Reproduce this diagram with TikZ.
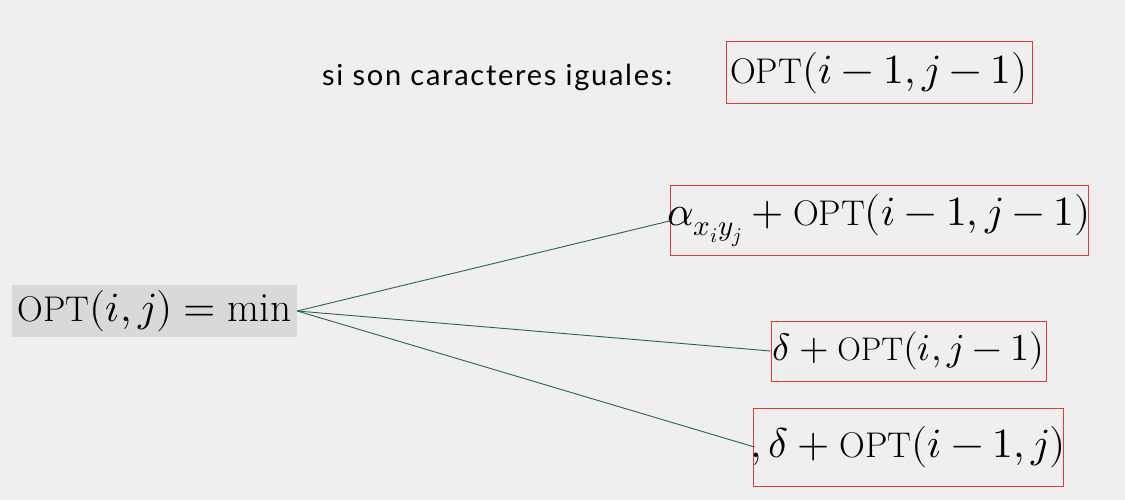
\documentclass[tikz,border=0pt]{standalone}
\usepackage{amsmath}
\usepackage{unicode-math}
\setmathfont{Latin Modern Math}
\usepackage{graphicx}
\newfontfamily\labelfont[LetterSpace=6]{Lato}
\newcommand{\OPT}{\mbox{\scalebox{0.86}{OPT}}}
\newcommand{\fixw}[1]{\makebox[0pt]{$#1$}}
\definecolor{bg}{HTML}{EFEFEF}
\definecolor{graybox}{HTML}{D9D9D9}
\definecolor{boxred}{HTML}{E53935}
\definecolor{linegreen}{HTML}{2F5F4F}
\begin{document}
\begin{tikzpicture}[x=1pt,y=-1pt,
  formula/.style={inner sep=0pt, font=\fontsize{41.5}{44}\selectfont},
  redbox/.style={formula, draw=boxred, line width=1pt},
  conn/.style={draw=linegreen, line width=0.9pt}]
\fill[bg] (0,0) rectangle (1125,500);
\useasboundingbox (0,0) rectangle (1125,500);
\node[formula, fill=graybox, minimum width=285pt, minimum height=52pt] (main) at (154.5,311) {\fixw{\OPT(i,j) = \min}};
\node[anchor=base west, inner sep=0pt, font=\labelfont\fontsize{29}{31}\selectfont] (lab) at (322,86) {si son caracteres iguales:};
\node[redbox, minimum width=306pt, minimum height=62pt] (b1) at (879,73) {\fixw{\OPT(i-1,j-1)}};
\node[redbox, minimum width=418pt, minimum height=69pt] (b2) at (879,220.5) {\fixw{\alpha_{x_iy_j} + \OPT(i-1,j-1)}};
\node[redbox, minimum width=275pt, minimum height=60pt, font=\fontsize{38}{40}\selectfont] (b3) at (908.5,351) {\fixw{\delta + \OPT(i,j-1)}};
\node[redbox, minimum width=310pt, minimum height=78pt] (b4) at (908,447) {\fixw{,\delta + \OPT(i-1,j)}};
\draw[conn] (main.east) -- ([xshift=2pt]b2.west);
\draw[conn] (main.east) -- (b3.west);
\draw[conn] (main.east) -- ([xshift=2pt]b4.west);
\end{tikzpicture}
\end{document}
